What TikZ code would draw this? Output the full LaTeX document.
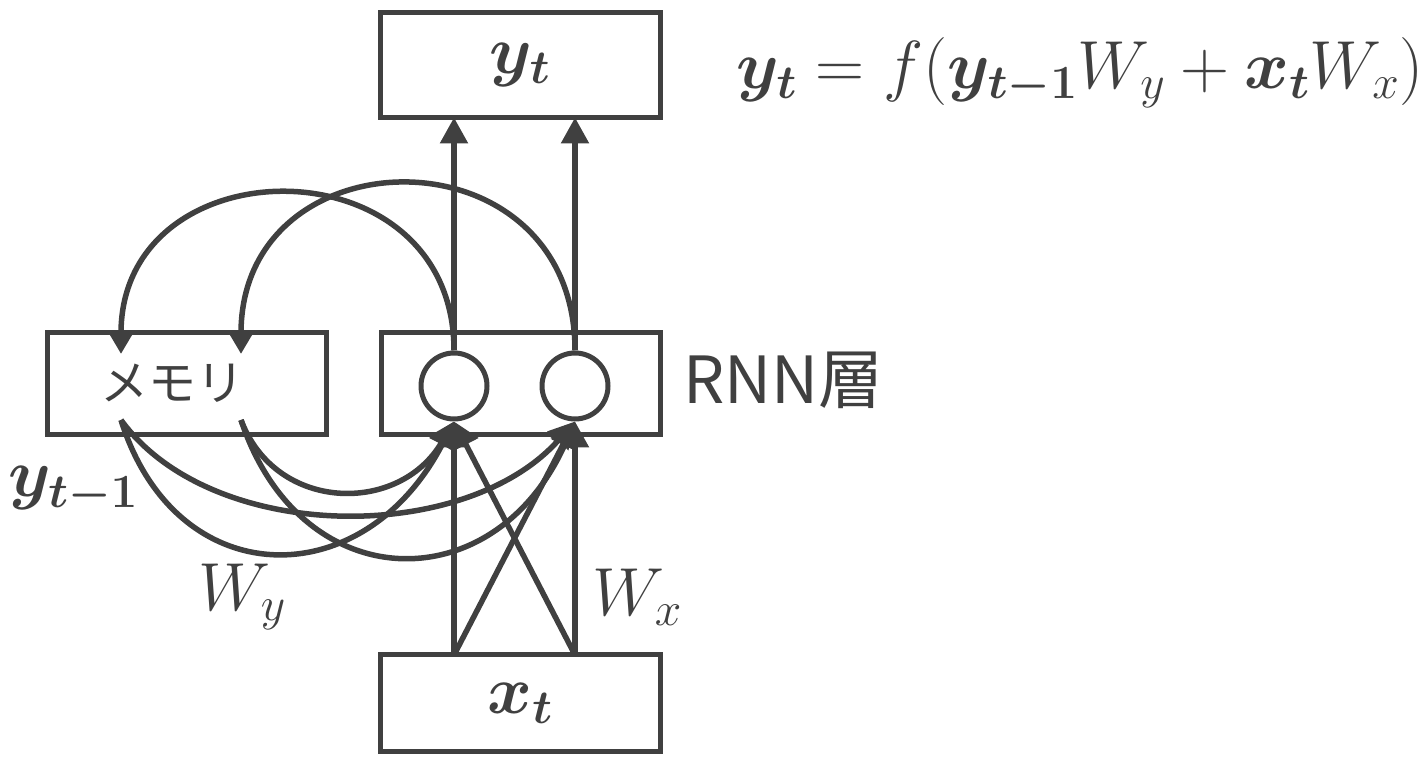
\RequirePackage{fix-cm}
\documentclass[tikz,border=0pt]{standalone}
\usepackage{amsmath}
\usepackage{bm}
\usepackage{fontspec}
\newfontfamily\jpfont{Noto Sans CJK JP}
\usepackage{tikz}
\usetikzlibrary{arrows.meta}
\definecolor{inkgray}{HTML}{404040}

\begin{document}
\begin{tikzpicture}[x=1pt, y=1pt,
    box/.style={draw=inkgray, line width=5pt, minimum width=280pt,
        minimum height=104pt, inner sep=0pt, outer sep=0pt},
    unit/.style={circle, draw=inkgray, line width=5pt, minimum size=66pt,
        inner sep=0pt},
    link/.style={draw=inkgray, line width=5.5pt,
        -{Triangle[length=26pt, width=27pt]}},
    mathlbl/.style={text=inkgray, font=\fontsize{68}{72}\selectfont},
    jplbl/.style={text=inkgray, font=\jpfont\fontsize{48}{52}\selectfont},
]

\useasboundingbox (0,0) rectangle (1424,757);

% Boxes
\node[box, minimum height=105pt, mathlbl] (out) at (520,692) {$\bm{y_t}$};
\node[box, minimum width=279pt, minimum height=102pt] (mem) at (186.5,373) {};
\node[box, minimum width=279pt, minimum height=102pt] (rnn) at (520.5,373) {};
\node[box, minimum height=97pt, mathlbl] (inp) at (520,53.5) {$\bm{x_t}$};

% Units of the RNN layer
\node[unit] (u1) at (454,371) {};
\node[unit] (u2) at (575,371) {};

% Ports on the memory and input boxes
\coordinate (min1)  at (121,403);
\coordinate (min2)  at (241,403);
\coordinate (mout1) at (121,337);
\coordinate (mout2) at (241,337);
\coordinate (xo1)   at (454,102);
\coordinate (xo2)   at (575,102);

% Output
\draw[link] (u1.north) -- (u1 |- out.south);
\draw[link] (u2.north) -- (u2 |- out.south);

% Feedback into memory
\draw[link, -{Triangle[length=22pt, width=24pt]}] (u1.north) to[out=90, in=90, looseness=1.62] (min1);
\draw[link, -{Triangle[length=22pt, width=24pt]}] (u2.north) to[out=90, in=90, looseness=1.71] (min2);

% Memory into units
\draw[link] (mout1) .. controls +(55,-175) and +(-90,-175) .. (u1.south);
\draw[link] (mout1) .. controls +(90,-124) and +(-110,-124) .. (u2.south);
\draw[link] (mout2) .. controls +(35,-93) and +(-55,-93) .. (u1.south);
\draw[link] (mout2) .. controls +(60,-180) and +(-80,-180) .. (u2.south);

% Input into units
\draw[link] (xo1) -- (u1.south);
\draw[link] (xo1) -- (u2.south);
\draw[link] (xo2) -- (u1.south);
\draw[link] (xo2) -- (u2.south);

% Labels
\node[jplbl] (memtxt) at (172,374) {メモリ};
\node[jplbl, font=\jpfont\fontsize{65}{69}\selectfont, anchor=west] (rnntxt) at (680,377) {RNN層};
\node[mathlbl] (yprev) at (73,267) {$\bm{y_{t-1}}$};
\node[mathlbl] (wy) at (242,160) {$W_y$};
\node[mathlbl] (wx) at (637,160) {$W_x$};
\node[mathlbl] (eq) at (1080,684)
    {$\bm{y_t} = f(\bm{y_{t-1}} W_y + \bm{x_t} W_x)$};

\end{tikzpicture}
\end{document}
